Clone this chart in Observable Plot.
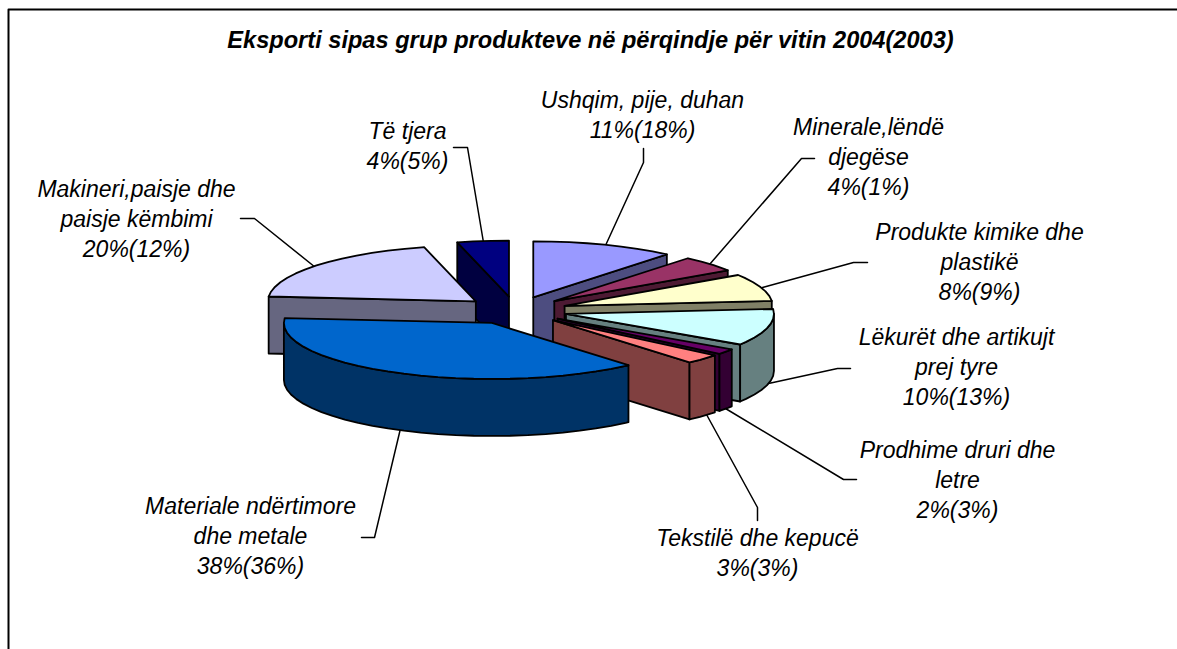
<!DOCTYPE html>
<html><head><meta charset="utf-8">
<style>html,body{margin:0;padding:0;background:#fff;overflow:hidden}svg{display:block}</style>
<script src="https://cdn.jsdelivr.net/npm/d3@7"></script>
<script src="https://cdn.jsdelivr.net/npm/@observablehq/plot@0.6"></script>
</head><body>
<script>
const names = ["Ushqim, pije, duhan","Minerale,lëndë\ndjegëse","Produkte kimike dhe\nplastikë","Lëkurët dhe artikujt\nprej tyre","Prodhime druri dhe\nletre","Tekstilë dhe kepucë","Materiale ndërtimore\ndhe metale","Makineri,paisje dhe\npaisje këmbimi","Të tjera"];
const share2004 = [11,4,8,10,2,3,38,20,4];
const share2003 = [18,1,9,13,3,3,36,12,5];
const sliceShare = [11.1,4.6,7.9,10.6,1.6,2.8,37.8,19.6,4.0];
const topColors  = ["#9999FF","#993366","#FFFFCC","#CCFFFF","#660066","#FF8080","#0066CC","#CCCCFF","#000080"];
const sideColors = ["#4D4D80","#4D1A33","#808066","#668080","#330033","#804040","#003366","#666680","#000040"];
const drawOrder = [8,7,0,1,2,3,4,5,6];
const title = "Eksporti sipas grup produkteve në përqindje për vitin 2004(2003)";

// label placement: centre of each text block
const labelX = [642,868,979,956,957,757,250,136,407];
const labelY = [113,155,260,365,478,551,534,217,144];
const leaders = [
  [[643,148],[643,162],[605,245]],
  [[814,158],[801,158],[709,264]],
  [[867,262],[853,262],[762,287]],
  [[850,368],[837,368],[768,383]],
  [[856,479],[843,479],[725,408]],
  [[757,520],[757,507],[706,414]],
  [[361,537],[374,537],[400,428]],
  [[240,218],[254,218],[315,267]],
  [[453,147],[467,147],[483,242]]
];
const frame = [[8,649],[8,9],[1177,9]];

// pie geometry
const cx = 515, cy = 310, rx = 208, ry = 56, depth = 57, explode = 0.25, arcStep = 5;

const total = d3.sum(sliceShare);
let acc = 0;
const slices = sliceShare.map((v,i)=>{ const a0 = acc/total*360; acc += v; return {i, a0, a1: acc/total*360}; });
const rad = d => d*Math.PI/180;
const faces = [];
function addFace(id, fill, pts){ [...pts, pts[0]].forEach(p=>faces.push({id, fill, x:p[0], y:p[1]})); }
function arcAngles(a,b){ const r=[a]; for(let t=Math.ceil((a+0.001)/arcStep)*arcStep; t<b; t+=arcStep) r.push(t); r.push(b); return r; }
for (const k of drawOrder){
  const s = slices[k], mid = (s.a0+s.a1)/2;
  const ax = cx + explode*rx*Math.sin(rad(mid)), ay = cy - explode*ry*Math.cos(rad(mid));
  const P = t => [ax + rx*Math.sin(rad(t)), ay - ry*Math.cos(rad(t))];
  const down = p => [p[0], p[1]+depth];
  const A = [ax,ay];
  if (Math.sin(rad(s.a0)) < -1e-6) addFace(k+"s", sideColors[k], [A,P(s.a0),down(P(s.a0)),down(A)]);
  if (Math.sin(rad(s.a1)) >  1e-6) addFace(k+"e", sideColors[k], [A,P(s.a1),down(P(s.a1)),down(A)]);
  const lo = Math.max(s.a0,90), hi = Math.min(s.a1,270);
  if (lo < hi){ const top = arcAngles(lo,hi).map(P); addFace(k+"o", sideColors[k], [...top, ...top.slice().reverse().map(down)]); }
  addFace(k+"t", topColors[k], [A, ...arcAngles(s.a0,s.a1).map(P)]);
}

const leaderRows = leaders.flatMap((pts,i)=>pts.map(p=>({i,x:p[0],y:p[1]})));
const frameRows = frame.map(p=>({x:p[0],y:p[1]}));
const labels = names.map((n,i)=>({x:labelX[i],y:labelY[i],text:`${n}\n${share2004[i]}%(${share2003[i]}%)`}));
const fontFamily = "'Liberation Sans',Arial,sans-serif";

const chart = Plot.plot({
  width:1177, height:649, margin:0,
  x:{domain:[0,1177],range:[0,1177],axis:null},
  y:{domain:[0,649],range:[0,649],axis:null},
  color:{type:"identity"},
  style:{background:"#fff"},
  marks:[
    Plot.line(frameRows,{x:"x",y:"y",stroke:"#000",strokeWidth:2}),
    Plot.line(leaderRows,{x:"x",y:"y",z:"i",stroke:"#000",strokeWidth:1.5}),
    Plot.line(faces,{x:"x",y:"y",z:"id",fill:"fill",stroke:"#000",strokeWidth:1.8,strokeLinejoin:"round"}),
    Plot.text(labels,{x:"x",y:"y",text:"text",lineHeight:1.3,lineAnchor:"middle",textAnchor:"middle",
      fontFamily,fontStyle:"italic",fontSize:23,fill:"#000"}),
    Plot.text([title],{x:()=>590,y:()=>40,text:d=>d,fontFamily,fontStyle:"italic",fontWeight:"bold",fontSize:23.6,fill:"#000",lineAnchor:"middle"})
  ]
});
document.body.appendChild(chart);
</script>
</body></html>
